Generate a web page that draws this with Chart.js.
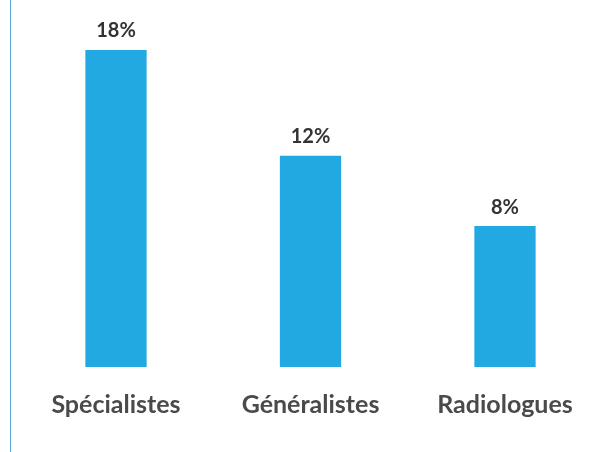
<!DOCTYPE html>
<html>
<head>
<meta charset="utf-8">
<script src="https://cdn.jsdelivr.net/npm/chart.js@4/dist/chart.umd.min.js"></script>
<style>
html,body{margin:0;padding:0;background:#fff;overflow:hidden;}
#wrap{position:relative;width:596px;height:452px;}
#vline{position:absolute;left:10px;top:0;width:0;height:452px;border-left:1.5px solid #5aa8d4;}
canvas{position:absolute;left:0;top:0;}
</style>
</head>
<body>
<div id="wrap">
<canvas id="c" width="596" height="452"></canvas>
<div id="vline"></div>
</div>
<script>
const categories = ['Spécialistes', 'Généralistes', 'Radiologues'];
const values = [18, 12, 8];
const valueLabels = ['18%', '12%', '8%'];

const valuePlugin = {
  id: 'valueLabels',
  afterDatasetsDraw(chart) {
    const ctx = chart.ctx;
    const meta = chart.getDatasetMeta(0);
    ctx.save();
    ctx.font = 'bold 20px Lato';
    ctx.fillStyle = '#333333';
    ctx.textAlign = 'center';
    ctx.textBaseline = 'middle';
    meta.data.forEach((bar, i) => {
      ctx.fillText(valueLabels[i], bar.x, bar.y - 19);
    });
    ctx.restore();
  }
};

new Chart(document.getElementById('c'), {
  type: 'bar',
  data: {
    labels: categories,
    datasets: [{
      data: values,
      backgroundColor: '#22a9e1',
      borderWidth: 0,
      barPercentage: 0.315,
      categoryPercentage: 1,
      clip: false
    }]
  },
  options: {
    responsive: false,
    animation: false,
    layout: { padding: { left: 116, right: 91, top: 50, bottom: 9 } },
    plugins: { legend: { display: false }, tooltip: { enabled: false } },
    scales: {
      x: {
        offset: false,
        grid: { display: false, drawTicks: false },
        border: { display: false },
        ticks: { font: { family: 'Lato', weight: 'bold', size: 25 }, color: '#4a4a4a', padding: 23, maxRotation: 0, autoSkip: false }
      },
      y: {
        display: false,
        min: 0,
        max: 18
      }
    }
  },
  plugins: [valuePlugin]
});
</script>
</body>
</html>
